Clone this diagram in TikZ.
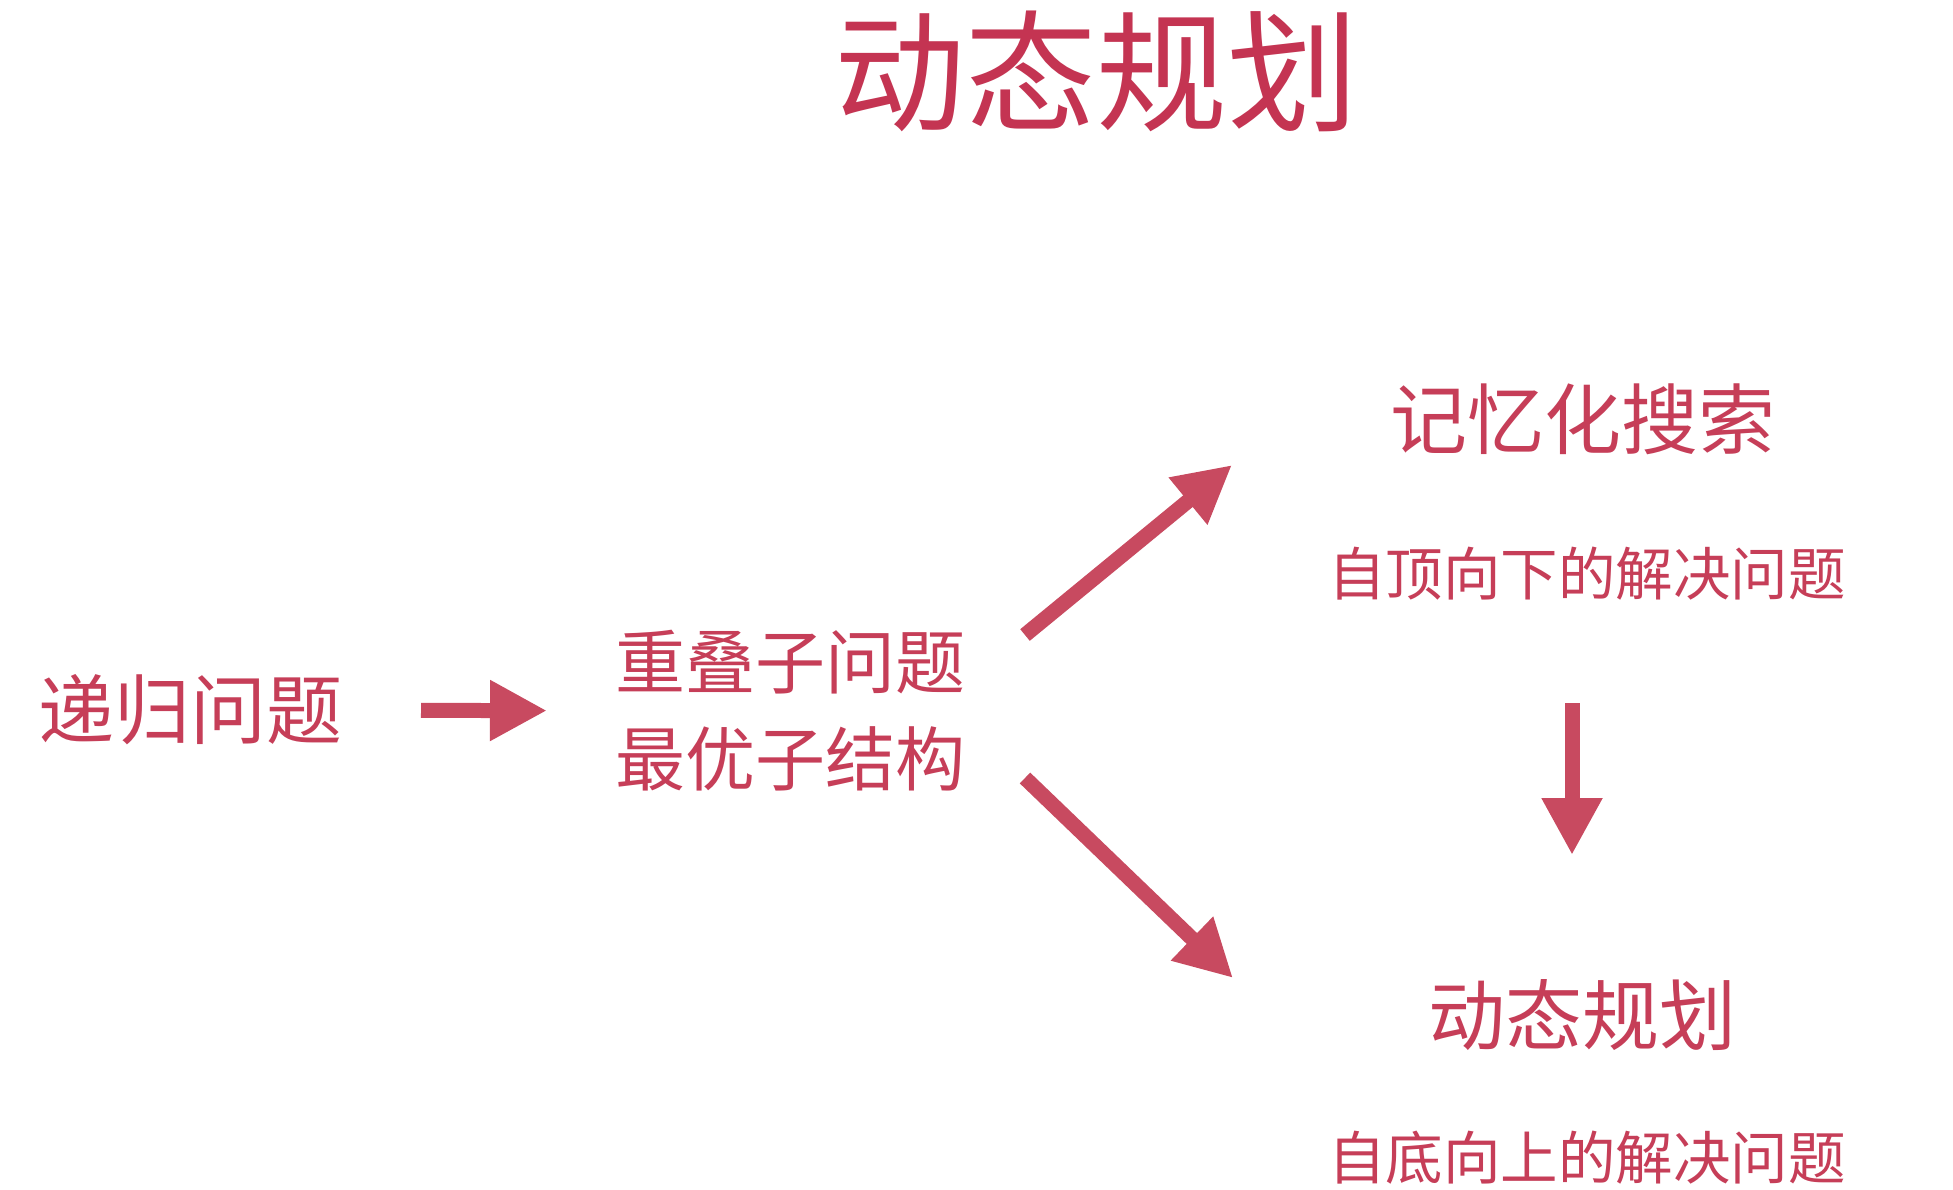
\documentclass[tikz,border=0pt]{standalone}
\usepackage{fontspec}
\newfontfamily\cjk{Noto Sans CJK SC}
\usetikzlibrary{arrows.meta}
\definecolor{titlered}{RGB}{196,52,82}
\definecolor{textred}{RGB}{198,62,88}
\definecolor{arrowred}{RGB}{200,74,96}
\tikzset{
  lbl/.style={inner sep=0pt, outer sep=0pt, text=textred, font=\cjk},
  bigarrow/.style={draw=arrowred, line width=15pt, line cap=butt,
    -{Triangle[width=57pt,length=57pt]}, arrowred}
}
\begin{document}
\begin{tikzpicture}[x=1pt,y=-1pt]
\fill[white] (0,0) rectangle (1953,1189);
\path[use as bounding box] (0,0) rectangle (1953,1189);

\node[lbl, text=titlered, font=\cjk\fontsize{131}{150}\selectfont] (title) at (1096,71) {动态规划};

\node[lbl, font=\cjk\fontsize{76}{90}\selectfont] (rec) at (190,710) {递归问题};
\node[lbl, align=center, font=\cjk\fontsize{70}{97}\selectfont] (mid) at (790,711) {重叠子问题\\最优子结构};
\node[lbl, font=\cjk\fontsize{77}{90}\selectfont] (memo) at (1583,419) {记忆化搜索};
\node[lbl, font=\cjk\fontsize{57.5}{70}\selectfont] (topdown) at (1587,574) {自顶向下的解决问题};
\node[lbl, font=\cjk\fontsize{77}{90}\selectfont] (dp) at (1582,1015) {动态规划};
\node[lbl, font=\cjk\fontsize{57.5}{70}\selectfont] (bottomup) at (1587,1158) {自底向上的解决问题};

\coordinate (upS) at (1025,635);
\coordinate (upE) at (1232,465);
\coordinate (dnS) at (1025,778);
\coordinate (dnE) at (1233,978);
\coordinate (vS) at (1572,703);
\coordinate (vE) at (1572,855);

\draw[bigarrow, shorten <=79pt, shorten >=68pt] (rec) -- (mid);
\draw[bigarrow] (upS) -- (upE);
\draw[bigarrow] (dnS) -- (dnE);
\draw[bigarrow] (vS) -- (vE);
\end{tikzpicture}
\end{document}
